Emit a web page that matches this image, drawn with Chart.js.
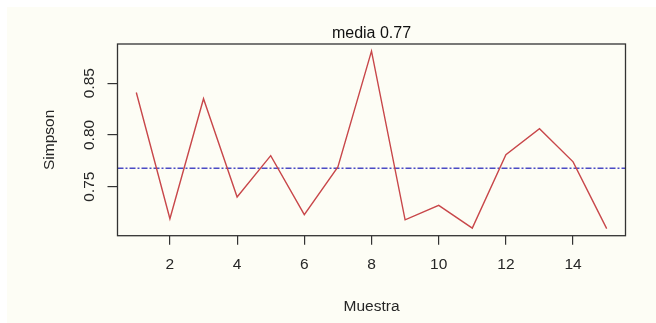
<!DOCTYPE html>
<html>
<head>
<meta charset="utf-8">
<script src="https://cdn.jsdelivr.net/npm/chart.js@4/dist/chart.umd.min.js"></script>
<style>
  html, body { margin: 0; padding: 0; background: #ffffff; }
  #wrap { position: relative; width: 656px; height: 323px; }
  canvas { display: block; }
</style>
</head>
<body>
<div id="wrap"><canvas id="c" width="656" height="323"></canvas></div>
<script>
// Simpson diversity index for each sample
const muestras = [1, 2, 3, 4, 5, 6, 7, 8, 9, 10, 11, 12, 13, 14, 15];
const simpson = [0.841, 0.719, 0.835, 0.740, 0.780, 0.723, 0.769, 0.881, 0.718, 0.732, 0.710, 0.781, 0.806, 0.774, 0.7095];
const xTicks = [2, 4, 6, 8, 10, 12, 14];
const yTicks = [0.75, 0.80, 0.85];

const media = simpson.reduce((a, b) => a + b, 0) / simpson.length;
const titulo = 'media ' + media.toFixed(2);

// R-style axis limits: data range extended by 4% on each side
function rango(v) {
  const lo = Math.min(...v), hi = Math.max(...v), d = (hi - lo) * 0.04;
  return [lo - d, hi + d];
}
const [xMin, xMax] = rango(muestras);
const [yMin, yMax] = rango(simpson);

const FONT = '"Liberation Sans", Arial, sans-serif';
const INK = '#262626';

const fondo = {
  id: 'fondo',
  beforeDraw(chart) {
    const ctx = chart.ctx;
    ctx.save();
    ctx.fillStyle = '#ffffff';
    ctx.fillRect(0, 0, chart.width, chart.height);
    ctx.fillStyle = '#fdfdf5';
    ctx.fillRect(7, 7, chart.width - 7, chart.height - 7);
    ctx.restore();
  }
};

const marco = {
  id: 'marco',
  afterDraw(chart) {
    const {ctx, chartArea: a, scales} = chart;
    ctx.save();
    // box around the plotting region
    ctx.strokeStyle = '#333333';
    ctx.lineWidth = 1.3;
    ctx.strokeRect(a.left, a.top, a.right - a.left, a.bottom - a.top);
    // rotated y tick labels
    ctx.fillStyle = INK;
    ctx.font = '15.5px ' + FONT;
    ctx.textAlign = 'center';
    ctx.textBaseline = 'middle';
    const y = scales.y;
    y.ticks.forEach(t => {
      const py = y.getPixelForValue(t.value);
      ctx.save();
      ctx.translate(90, py);
      ctx.rotate(-Math.PI / 2);
      ctx.fillText(t.value.toFixed(2), 0, 0);
      ctx.restore();
    });
    // main title
    ctx.font = '16px ' + FONT;
    ctx.fillStyle = '#111111';
    ctx.fillText(titulo, (a.left + a.right) / 2, 34);
    ctx.restore();
  }
};

new Chart(document.getElementById('c'), {
  type: 'line',
  data: {
    datasets: [
      {
        label: 'Simpson',
        data: muestras.map((m, i) => ({x: m, y: simpson[i]})),
        borderColor: '#c8474a',
        borderWidth: 1.4,
        pointRadius: 0,
        tension: 0,
        order: 1
      },
      {
        label: 'media',
        data: [{x: xMin, y: media}, {x: xMax, y: media}],
        borderColor: '#4b4bc4',
        borderWidth: 1.5,
        borderDash: [6, 2, 2, 2],
        pointRadius: 0,
        order: 2
      }
    ]
  },
  options: {
    responsive: false,
    animation: false,
    layout: { padding: { left: 0, right: 30.5, top: 44, bottom: 0 } },
    plugins: { legend: { display: false }, tooltip: { enabled: false }, title: { display: false } },
    scales: {
      x: {
        type: 'linear',
        min: xMin,
        max: xMax,
        afterBuildTicks(s) { s.ticks = xTicks.map(v => ({value: v})); },
        afterFit(s) { s.height = 323 - 44 - 191.7; },
        grid: { drawOnChartArea: false, drawTicks: true, tickLength: 9, color: '#333333', lineWidth: 1.2 },
        border: { display: false },
        ticks: { color: INK, font: { family: FONT, size: 15.5 }, padding: 11, maxRotation: 0 },
        title: { display: true, text: 'Muestra', color: INK, font: { family: FONT, size: 15.5 }, padding: { top: 0, bottom: 7 } }
      },
      y: {
        type: 'linear',
        min: yMin,
        max: yMax,
        afterBuildTicks(s) { s.ticks = yTicks.map(v => ({value: v})); },
        afterFit(s) { s.width = 117.5; },
        grid: { drawOnChartArea: false, drawTicks: true, tickLength: 10, color: '#333333', lineWidth: 1.2 },
        border: { display: false },
        ticks: { display: false },
        title: { display: true, text: 'Simpson', color: INK, font: { family: FONT, size: 15.5 }, padding: { top: 40.7, bottom: 0 } }
      }
    }
  },
  plugins: [fondo, marco]
});
</script>
</body>
</html>
